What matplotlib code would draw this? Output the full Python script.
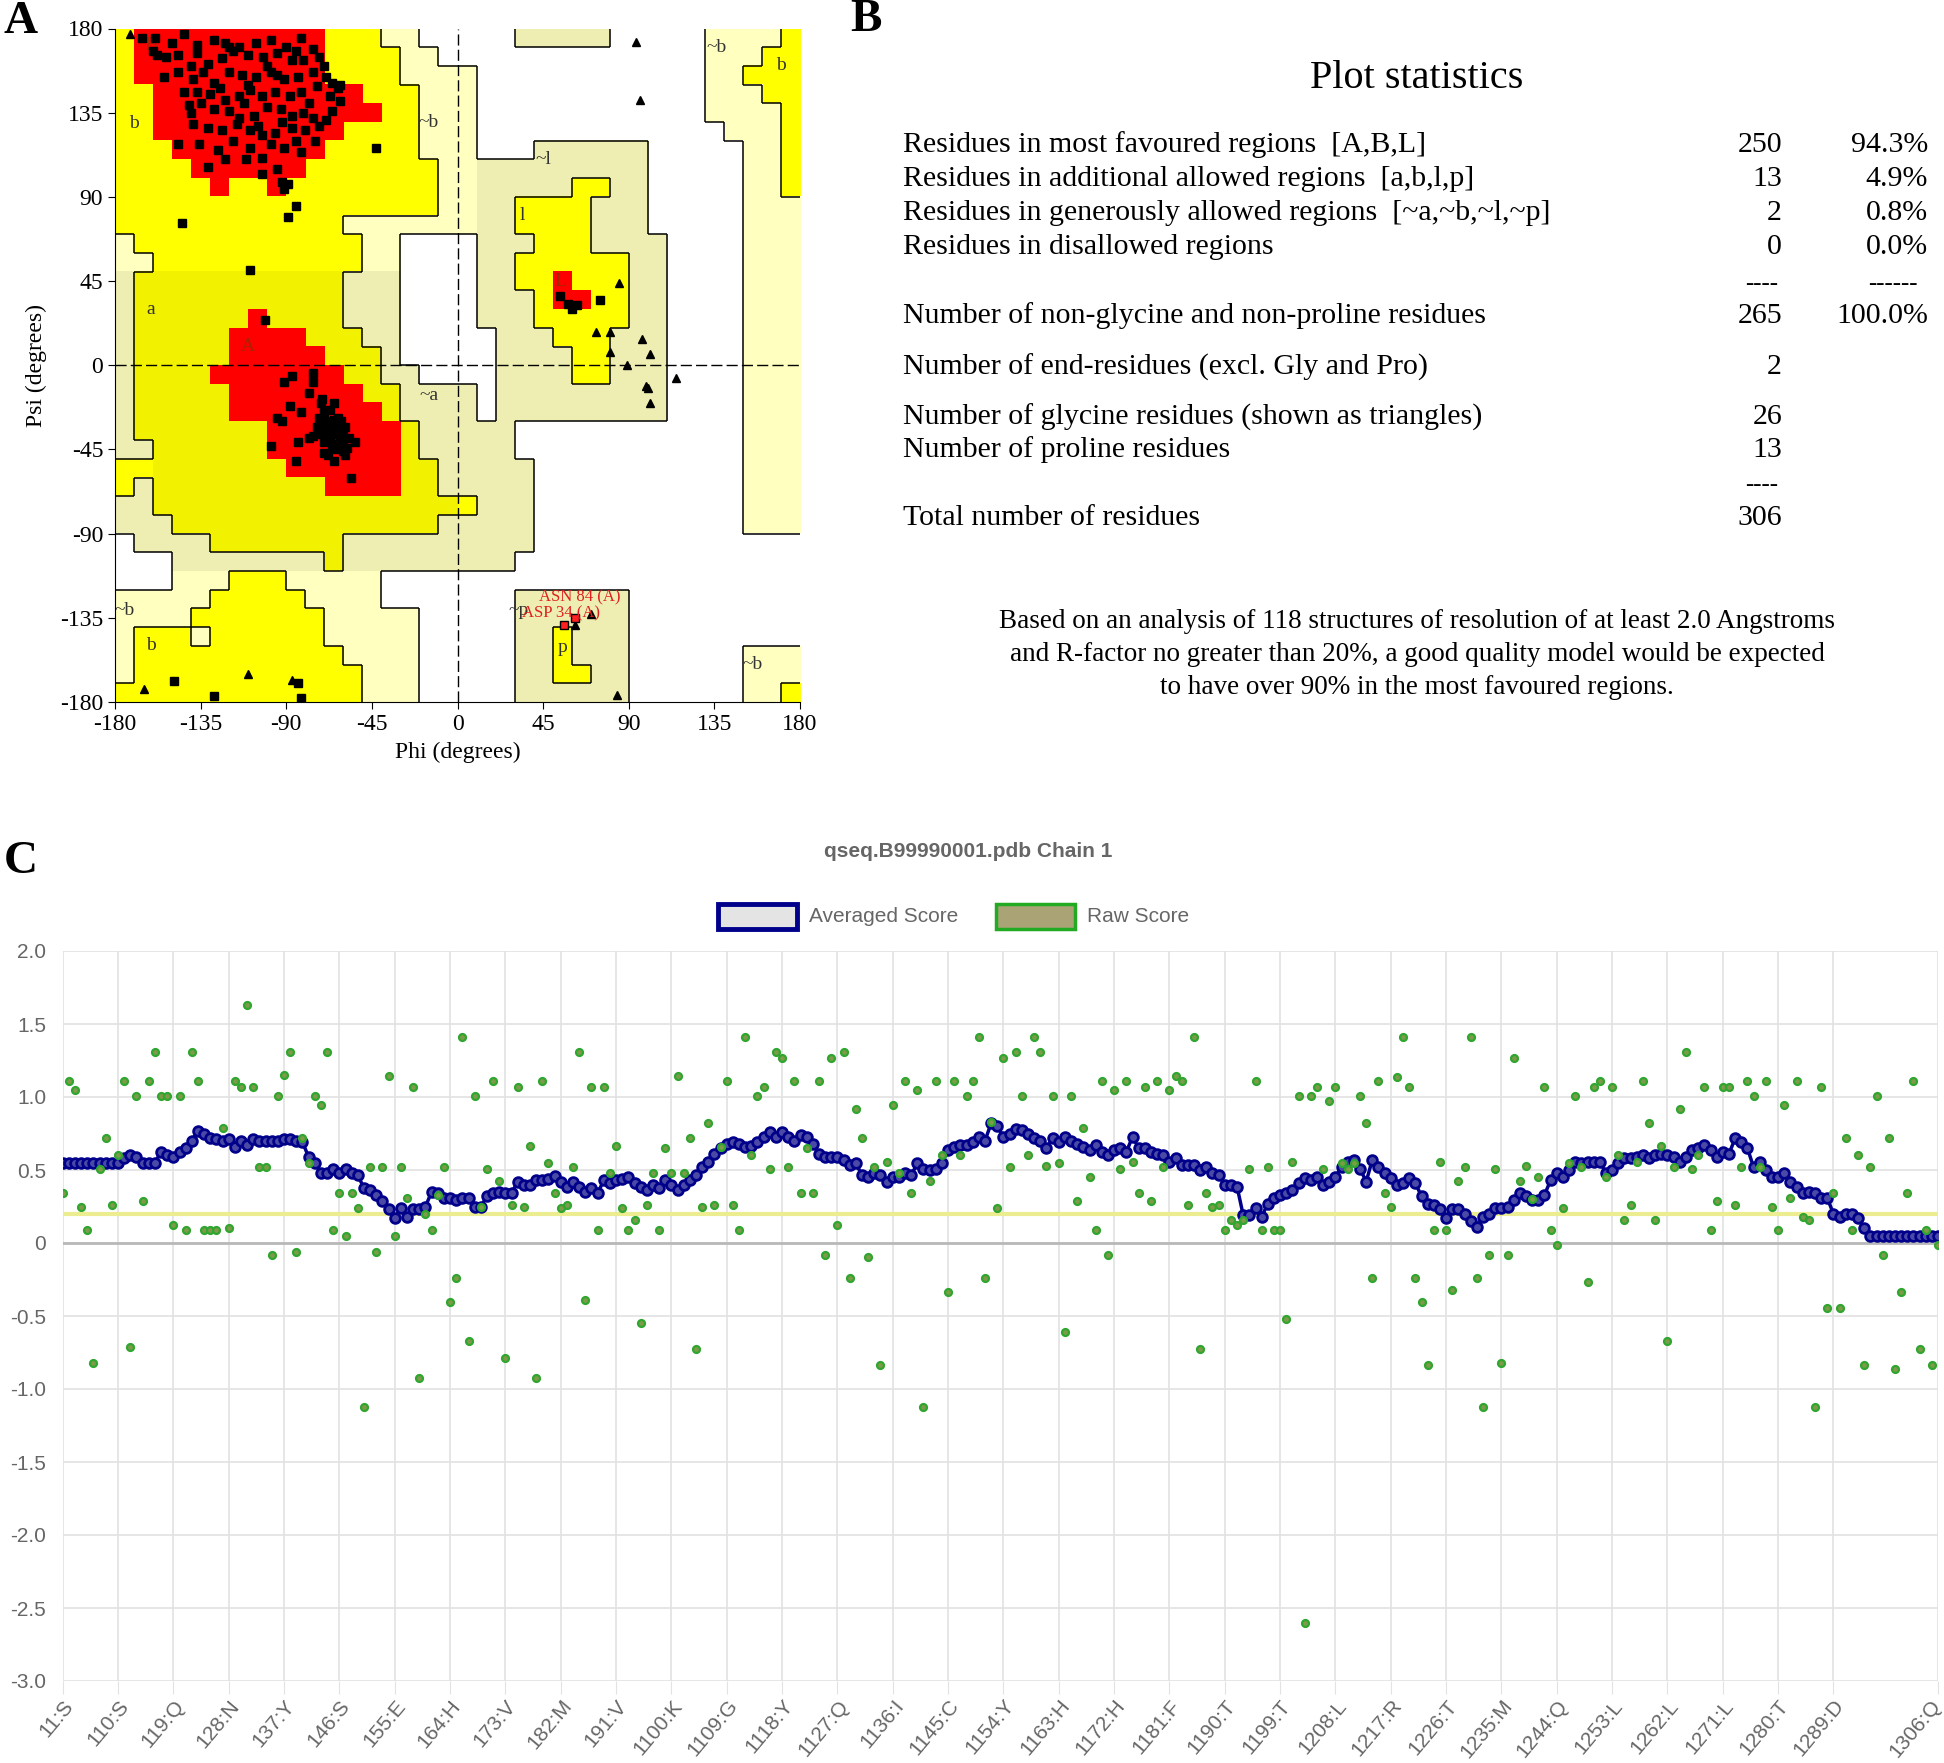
import matplotlib.pyplot as plt
import matplotlib.transforms as mtransforms
import numpy as np
from matplotlib.patches import Rectangle
from matplotlib.collections import LineCollection

plt.rcParams['axes.unicode_minus'] = False

W, H = 1944, 1763


def fx(x):
    return x / W


def fy(y):
    return 1 - y / H


# ---------------- Panel A: Ramachandran plot ----------------
# 36 x 36 cells of 10 degrees, top row = psi 170..180, left column = phi -180..-170
# R core, Y/A allowed, p/q generously allowed, . disallowed
region_left = [
    "YRRRRRRRRRRYYYpp..", "YRRRRRRRRRRYYYYpp.", "YRRRRRRRRRRYYYYppp", "YYRRRRRRRRRRRYYYpp",
    "YYRRRRRRRRRRRRYYpp", "YYRRRRRRRRRRYYYYpp", "YYYRRRRRRRRYYYYYpp", "YYYYRRRRRRYYYYYYYp",
    "YYYYYRYYRYYYYYYYYp", "YYYYYYYYYYYYYYYYYp", "YYYYYYYYYYYYpppppp", "pYYYYYYYYYYYYpp...",
    "ppYYYYYYYYYYYpp...", "qAAAAAAAAAAAqqq...", "qAAAAAAAAAAAqqq...", "qAAAAAARAAAAqqq...",
    "qAAAAARRRRAAAqq...", "qAAAAARRRRRAAAq...", "qAAAARRRRRRRAAqq..", "qAAAAARRRRRRRAAqqq",
    "qAAAAARRRRRRRRAqqq", "qAAAAAAARRRRRRRAqq", "qqAAAAAARRRRRRRAqq", "YYAAAAAAARRRRRRAAq",
    "YqAAAAAAAAARRRRAAq", "qqAAAAAAAAAAAAAAAA", "qqqAAAAAAAAAAAAAAq", ".qqqqAAAAAAAqqqqqq",
    "...qqqqqqqqAqqqqqq", "...pppYYYppppp....", "pppppYYYYYpppp....", "ppppYYYYYYYppppp..",
    "pYYYpYYYYYYppppp..", "pYYYYYYYYYYYpppp..", "pYYYYYYYYYYYYppp..", "YYYYYYYYYYYYYppp..",
]
region_right = [
    "...qqqqq.....ppppY", ".............pppYY", "p............ppYYY", "p............pppYY",
    "p............ppppY", "p.............pppY", "p...qqqqqq.....ppY", "pqqqqqqqqq.....ppY",
    "pqqqqqYYqq.....ppY", "pqqYYYYqqq.....ppp", "pqqYYYYqqq.....ppp", ".qqqYYYqqqq....ppp",
    ".qqYYYYYYqq....ppp", ".qqYYRYYYqq....ppp", ".qqqYRRYYqq....ppp", ".qqqYYYYYqq....ppp",
    "..qqqYYYqqq....ppp", "..qqqqYYqqq....ppp", "..qqqqYYqqq....ppp", "q.qqqqqqqqq....ppp",
    "q.qqqqqqqqq....ppp", "qqq............ppp", "qqq............ppp", "qqqq...........ppp",
    "qqqq...........ppp", "Yqqq...........ppp", "qqqq...........ppp", "qqqq..............",
    "qqq...............", "..................", "...qqqqqq.........", "...qqqqqq.........",
    "...qqYqqq.........", "...qqYqqq......ppp", "...qqYYqq......ppp", "...qqqqqq......ppY",
]
region_colors = {'R': '#ff0000', 'Y': '#ffff00', 'A': '#f2f200',
                 'p': '#ffffc0', 'q': '#eeeeb2', '.': '#ffffff'}
region_level = {'R': 3, 'Y': 2, 'A': 2, 'p': 1, 'q': 1, '.': 0}

# non-glycine residues (squares), phi / psi in degrees
sq_phi = [-166, -159, -144, -137, -128, -122, -115, -106, -98, -90, -82, -76, -158, -153, -147,
          -137, -131, -124, -118, -110, -102, -95, -87, -81, -73, -66, -63, -154, -147, -139,
          -134, -128, -120, -113, -106, -98, -91, -84, -76, -69, -62, -144, -137, -130, -122,
          -115, -109, -103, -96, -88, -82, -74, -67, -62, -141, -135, -128, -120, -115, -107,
          -100, -93, -87, -81, -76, -69, -139, -131, -124, -116, -109, -103, -96, -87, -80,
          -73, -147, -136, -122, -109, -103, -98, -91, -82, -131, -111, -103, -95, -89, -91,
          -92, -43, -85, -89, -145, -109, -101,
          -160, -150, -140, -125, -110, -100, -85, -78, -70, -66, -118, -126, -140, -105, -92,
          -85, -75, -112, -95, -120,
          -76, -76, -78, -82, -88, -91, -87, -95, -92, -98, -84, -78, -72, -70, -69, -67, -65,
          -63, -62, -66, -68, -65, -60, -59, -57, -54, -71, -74, -70, -71, -67, -65, -63, -61,
          -73, -76, -85, -56, -65, -69, -66, -63, -60, -59, -70,
          -64, -62, -68, -66, -58, -72, -60, -64, -67, -61,
          -149, -128, -84, -82, 54, 58, 60, 63, 75]
sq_psi = [175, 175, 177, 171, 174, 172, 170, 172, 174, 170, 175, 169, 166, 165, 166,
          167, 161, 164, 168, 166, 165, 167, 163, 163, 165, 151, 148, 154, 157, 153,
          157, 151, 157, 155, 154, 157, 153, 154, 157, 154, 150, 146, 146, 145, 142,
          144, 147, 144, 146, 144, 146, 149, 144, 141, 139, 140, 137, 136, 132, 133,
          138, 137, 133, 135, 132, 131, 129, 127, 126, 129, 126, 123, 124, 127, 126,
          128, 118, 118, 110, 116, 111, 118, 116, 114, 106, 110, 102, 105, 97, 94,
          98, 116, 85, 79, 76, 51, 24,
          168, 172, 160, 148, 150, 160, 168, 140, 160, 136, 120, 115, 135, 128, 130,
          120, 120, 140, 155, 170,
          -4, -9, -15, -25, -22, -9, -6, -28, -30, -43, -41, -39, -20, -25, -30, -33, -37,
          -28, -38, -43, -48, -51, -46, -33, -39, -41, -37, -33, -41, -18, -24, -29, -42, -30,
          -28, -38, -51, -60, -20, -39, -37, -33, -37, -48, -47,
          -35, -42, -36, -31, -44, -32, -40, -45, -40, -34,
          -169, -177, -170, -178, 37, 33, 30, 32, 35]
# residues flagged in generously allowed regions
flag_phi = [56, 62]
flag_psi = [-139, -135]
flag_names = ["ASP 34 (A)", "ASN 84 (A)"]
# glycines (triangles)
gly_phi = [-172, 94, 96, 85, 73, 80, 80, 97, 101, 89, 99, 100, 101, 115, 62, 70, -110, -87, -165, 84]
gly_psi = [177, 173, 142, 44, 18, 18, 7, 14, 6, 0, -11, -12, -20, -7, -139, -133, -165, -168, -173, -176]

region_labels = [("B", -161, 171), ("b", -170, 129), ("~b", -15, 130), ("~l", 45, 110), ("l", 34, 80),
                 ("L", 54, 45), ("a", -161, 30), ("A", -110, 10), ("~a", -15, -16), ("~b", -175, -131),
                 ("b", -161, -150), ("~p", 32, -131), ("p", 55, -151), ("~b", 155, -160),
                 ("b", 170, 160), ("~b", 136, 170)]

# ---------------- Panel B: statistics ----------------
stat_labels = ["Residues in most favoured regions  [A,B,L]",
               "Residues in additional allowed regions  [a,b,l,p]",
               "Residues in generously allowed regions  [~a,~b,~l,~p]",
               "Residues in disallowed regions",
               "Number of non-glycine and non-proline residues",
               "Number of end-residues (excl. Gly and Pro)",
               "Number of glycine residues (shown as triangles)",
               "Number of proline residues",
               "Total number of residues"]
stat_counts = ["250", "13", "2", "0", "265", "2", "26", "13", "306"]
stat_pcts = ["94.3%", "4.9%", "0.8%", "0.0%", "100.0%", "", "", "", ""]
note_lines = ["Based on an analysis of 118 structures of resolution of at least 2.0 Angstroms",
              "and R-factor no greater than 20%, a good quality model would be expected",
              "to have over 90% in the most favoured regions."]

# ---------------- Panel C: Verify3D ----------------
raw_score = [
    0.345, 1.107, 1.05, 0.25, 0.09, -0.82, 0.505, 0.72, 0.26, 0.60,
    1.107, -0.71, 1.01, 0.29, 1.107, 1.307, 1.01, 1.01, 0.12, 1.01,
    0.09, 1.307, 1.107, 0.09, 0.09, 0.09, 0.79, 0.10, 1.107, 1.066,
    1.63, 1.066, 0.52, 0.52, -0.08, 1.01, 1.15, 1.307, -0.06, 0.72,
    0.55, 1.01, 0.945, 1.307, 0.09, 0.345, 0.05, 0.345, 0.24, -1.125,
    0.52, -0.06, 0.52, 1.145, 0.05, 0.52, 0.305, 1.066, -0.925, 0.20,
    0.09, 0.33, 0.52, -0.405, -0.243, 1.414, -0.67, 1.01, 0.25, 0.505,
    1.107, 0.425, -0.79, 0.26, 1.066, 0.25, 0.666, -0.925, 1.107, 0.545,
    0.345, 0.24, 0.26, 0.52, 1.307, -0.39, 1.066, 0.09, 1.066, 0.477,
    0.666, 0.24, 0.09, 0.16, -0.55, 0.26, 0.477, 0.09, 0.65, 0.477,
    1.145, 0.477, 0.72, -0.727, 0.25, 0.825, 0.26, 0.66, 1.107, 0.26,
    0.09, 1.414, 0.60, 1.01, 1.066, 0.505, 1.307, 1.266, 0.52, 1.107,
    0.345, 0.65, 0.345, 1.107, -0.08, 1.266, 0.12, 1.307, -0.243, 0.92,
    0.72, -0.095, 0.52, -0.834, 0.557, 0.945, 0.48, 1.107, 0.345, 1.05,
    -1.125, 0.425, 1.107, 0.60, -0.336, 1.107, 0.60, 1.01, 1.107, 1.414,
    -0.243, 0.83, 0.24, 1.266, 0.52, 1.307, 1.01, 0.60, 1.414, 1.307,
    0.53, 1.01, 0.545, -0.61, 1.01, 0.29, 0.79, 0.45, 0.09, 1.107,
    -0.08, 1.05, 0.505, 1.107, 0.557, 0.345, 1.066, 0.29, 1.107, 0.52,
    1.05, 1.145, 1.107, 0.26, 1.414, -0.727, 0.345, 0.25, 0.26, 0.09,
    0.16, 0.12, 0.16, 0.505, 1.107, 0.09, 0.52, 0.09, 0.09, -0.52,
    0.557, 1.01, -2.6, 1.01, 1.066, 0.505, 0.97, 1.066, 0.55, 0.505,
    0.55, 1.01, 0.825, -0.243, 1.107, 0.345, 0.25, 1.134, 1.414, 1.066,
    -0.243, -0.405, -0.834, 0.09, 0.557, 0.09, -0.323, 0.425, 0.52, 1.414,
    -0.243, -1.125, -0.08, 0.505, -0.82, -0.08, 1.266, 0.425, 0.53, 0.30,
    0.45, 1.066, 0.09, -0.016, 0.24, 0.55, 1.01, 0.52, -0.27, 1.066,
    1.107, 0.45, 1.066, 0.60, 0.16, 0.26, 0.557, 1.107, 0.825, 0.16,
    0.666, -0.67, 0.52, 0.92, 1.307, 0.505, 0.60, 1.066, 0.09, 0.29,
    1.066, 1.066, 0.26, 0.52, 1.107, 1.01, 0.52, 1.107, 0.25, 0.09,
    0.945, 0.305, 1.107, 0.18, 0.16, -1.125, 1.066, -0.443, 0.345, -0.443,
    0.72, 0.09, 0.60, -0.834, 0.52, 1.01, -0.08, 0.72, -0.86, -0.336,
    0.345, 1.107, -0.727, 0.09, -0.834, -0.016]
avg_score = [
    0.545, 0.545, 0.545, 0.545, 0.545, 0.545, 0.545, 0.545, 0.545, 0.545,
    0.58, 0.60, 0.59, 0.55, 0.545, 0.55, 0.625, 0.60, 0.59, 0.62,
    0.65, 0.70, 0.77, 0.75, 0.72, 0.71, 0.70, 0.71, 0.66, 0.70,
    0.67, 0.71, 0.70, 0.70, 0.70, 0.70, 0.715, 0.71, 0.70, 0.69,
    0.59, 0.55, 0.48, 0.48, 0.51, 0.48, 0.51, 0.48, 0.465, 0.375,
    0.36, 0.33, 0.285, 0.23, 0.17, 0.24, 0.18, 0.23, 0.23, 0.25,
    0.35, 0.34, 0.31, 0.31, 0.295, 0.31, 0.31, 0.25, 0.25, 0.32,
    0.34, 0.35, 0.34, 0.34, 0.42, 0.40, 0.40, 0.43, 0.43, 0.44,
    0.46, 0.42, 0.385, 0.42, 0.385, 0.35, 0.375, 0.34, 0.43, 0.41,
    0.43, 0.44, 0.45, 0.41, 0.385, 0.36, 0.40, 0.375, 0.43, 0.40,
    0.36, 0.40, 0.43, 0.465, 0.52, 0.557, 0.61, 0.65, 0.68, 0.69,
    0.68, 0.66, 0.666, 0.69, 0.727, 0.76, 0.727, 0.76, 0.727, 0.70,
    0.74, 0.727, 0.68, 0.61, 0.59, 0.59, 0.59, 0.57, 0.534, 0.545,
    0.465, 0.455, 0.477, 0.465, 0.42, 0.455, 0.455, 0.477, 0.465, 0.545,
    0.51, 0.50, 0.51, 0.545, 0.636, 0.66, 0.67, 0.67, 0.69, 0.727,
    0.70, 0.82, 0.80, 0.727, 0.75, 0.784, 0.773, 0.75, 0.716, 0.70,
    0.65, 0.716, 0.69, 0.727, 0.70, 0.68, 0.66, 0.636, 0.67, 0.625,
    0.60, 0.636, 0.65, 0.625, 0.727, 0.65, 0.65, 0.625, 0.61, 0.60,
    0.557, 0.58, 0.534, 0.534, 0.534, 0.50, 0.52, 0.477, 0.465, 0.40,
    0.40, 0.386, 0.19, 0.19, 0.24, 0.18, 0.27, 0.307, 0.33, 0.34,
    0.364, 0.41, 0.443, 0.43, 0.455, 0.40, 0.42, 0.455, 0.52, 0.557,
    0.57, 0.51, 0.42, 0.57, 0.52, 0.477, 0.443, 0.40, 0.41, 0.443,
    0.41, 0.32, 0.27, 0.26, 0.23, 0.17, 0.23, 0.23, 0.20, 0.15,
    0.11, 0.18, 0.20, 0.24, 0.24, 0.25, 0.295, 0.34, 0.32, 0.295,
    0.295, 0.33, 0.43, 0.477, 0.455, 0.50, 0.557, 0.545, 0.557, 0.557,
    0.557, 0.477, 0.50, 0.545, 0.58, 0.58, 0.59, 0.60, 0.58, 0.60,
    0.61, 0.60, 0.59, 0.557, 0.59, 0.636, 0.65, 0.67, 0.636, 0.59,
    0.625, 0.61, 0.716, 0.69, 0.65, 0.52, 0.557, 0.50, 0.455, 0.455,
    0.477, 0.42, 0.386, 0.34, 0.35, 0.34, 0.307, 0.307, 0.20, 0.18,
    0.20, 0.20, 0.17, 0.10, 0.045, 0.045, 0.045, 0.045, 0.045, 0.045,
    0.045, 0.045, 0.045, 0.045, 0.045, 0.045]
tick_res = [1, 10, 19, 28, 37, 46, 55, 64, 73, 82, 91, 100, 109, 118, 127, 136, 145,
            154, 163, 172, 181, 190, 199, 208, 217, 226, 235, 244, 253, 262, 271, 280, 289, 306]
tick_aa = ["S", "S", "Q", "N", "Y", "S", "E", "H", "V", "M", "V", "K", "G", "Y", "Q", "I", "C",
           "Y", "H", "H", "F", "T", "T", "L", "R", "T", "M", "Q", "L", "L", "L", "T", "D", "Q"]

assert len(raw_score) == 306 and len(avg_score) == 306
assert all(len(s) == 18 for s in region_left + region_right)

serif = ['Liberation Serif', 'DejaVu Serif']
sans = ['Liberation Sans', 'DejaVu Sans']

fig = plt.figure(figsize=(W / 100, H / 100), dpi=100)

# ---- panel A
axa = fig.add_axes([fx(115), fy(702), fx(800) - fx(115), (702 - 28.5) / H])
rows = [l + r for l, r in zip(region_left, region_right)]
rgb = np.array([[plt.matplotlib.colors.to_rgb(region_colors[c]) for c in row] for row in rows])
axa.imshow(rgb, extent=[-180, 180, -180, 180], origin='upper', aspect='auto',
           interpolation='nearest', zorder=0)
lev = np.array([[region_level[c] for c in row] for row in rows])
segs = []
for i in range(36):
    for j in range(36):
        top = 180 - 10 * i
        left = -180 + 10 * j
        if j < 35 and lev[i, j] != lev[i, j + 1] and min(lev[i, j], lev[i, j + 1]) < 2:
            segs.append([(left + 10, top), (left + 10, top - 10)])
        if i < 35 and lev[i, j] != lev[i + 1, j] and min(lev[i, j], lev[i + 1, j]) < 2:
            segs.append([(left, top - 10), (left + 10, top - 10)])
axa.add_collection(LineCollection(segs, colors='black', linewidths=1.1, zorder=1))
axa.axhline(0, color='black', lw=1, ls=(0, (8, 3)), zorder=1)
axa.axvline(0, color='black', lw=1, ls=(0, (8, 3)), zorder=1)
for txt, x, y in region_labels:
    col = '#aa2200' if txt in ('A', 'B', 'L') else '#333333'
    axa.text(x, y, txt, fontsize=14, family=serif, color=col, ha='center', va='center', zorder=2)
axa.plot(sq_phi, sq_psi, 's', ms=5.2, color='black', ls='none', zorder=3)
axa.plot(gly_phi, gly_psi, '^', ms=5.5, color='black', ls='none', zorder=3)
axa.plot(flag_phi, flag_psi, 's', ms=5.5, mfc='#ff2020', mec='black', ls='none', zorder=4)
axa.text(flag_phi[0] - 22, flag_psi[0] + 4, flag_names[0], fontsize=12, family=serif, color='#e02020', zorder=5)
axa.text(flag_phi[1] - 19, flag_psi[1] + 9, flag_names[1], fontsize=12, family=serif, color='#e02020', zorder=5)
axa.set_xlim(-180, 180)
axa.set_ylim(-180, 180)
ticks = [-180, -135, -90, -45, 0, 45, 90, 135, 180]
axa.set_xticks(ticks)
axa.set_yticks(ticks)
axa.tick_params(labelsize=17, length=5, direction='out')
for lab in axa.get_xticklabels() + axa.get_yticklabels():
    lab.set_family(serif)
for s in ('top', 'right'):
    axa.spines[s].set_visible(False)
axa.set_xlabel('Phi (degrees)', fontsize=17, family=serif, labelpad=5)
axa.set_ylabel('Psi (degrees)', fontsize=17, family=serif, labelpad=9)

# ---- panel B
fig.text(fx(1417), fy(79), 'Plot statistics', fontsize=29, family=serif, ha='center', va='center')
row_y = [145, 178.5, 213, 247, 316, 367, 417, 450, 518]
for lab, cnt, pct, y in zip(stat_labels, stat_counts, stat_pcts, row_y):
    fig.text(fx(903), fy(y), lab, fontsize=21.5, family=serif, ha='left', va='center')
    fig.text(fx(1782), fy(y), cnt, fontsize=21.5, family=serif, ha='right', va='center')
    if pct:
        fig.text(fx(1928), fy(y), pct, fontsize=21.5, family=serif, ha='right', va='center')
fig.text(fx(1778), fy(284), '----', fontsize=18, family=serif, ha='right', va='center')
fig.text(fx(1918), fy(284), '------', fontsize=18, family=serif, ha='right', va='center')
fig.text(fx(1778), fy(485), '----', fontsize=18, family=serif, ha='right', va='center')
for k, line in enumerate(note_lines):
    fig.text(fx(1417), fy(621 + 33.5 * k), line, fontsize=19.5, family=serif, ha='center', va='center')

# panel letters
for letter, x, y in [('A', 21, 22), ('B', 866, 20), ('C', 21, 862)]:
    fig.text(fx(x), fy(y), letter, fontsize=34, fontweight='bold', family=serif, ha='center', va='center')

# ---- panel C
axc = fig.add_axes([fx(62.7), fy(1681), fx(1938) - fx(62.7), (1681 - 951) / H])
res = np.arange(1, 307)
axc.axhline(0.2, color='#ecec90', lw=3, zorder=2)
axc.plot(res, avg_score, '-', color='#00008b', lw=2.5, marker='o', ms=7, mfc='#4a4aa6',
         mec='#00008b', mew=2, zorder=3)
axc.plot(res, raw_score, 'o', ms=5, mfc='#7f9a48', mec='#2fa62f', mew=1.6, ls='none', zorder=4)
axc.set_xlim(1, 306)
axc.set_ylim(-3, 2)
yt = np.arange(-3, 2.01, 0.5)
axc.set_yticks(yt)
axc.set_yticklabels(['0' if abs(v) < 1e-9 else f'{v:.1f}' for v in yt])
axc.set_xticks(tick_res)
axc.set_xticklabels([f'1{r}:{a}' for r, a in zip(tick_res, tick_aa)], rotation=50,
                    ha='right', va='top', rotation_mode='anchor')
axc.grid(True, color='#e2e2e2', lw=1.2, zorder=0)
axc.axhline(0, color='#b8b8b8', lw=2, zorder=1)
for s in axc.spines.values():
    s.set_visible(False)
axc.tick_params(axis='y', length=0, pad=12, labelsize=15, labelcolor='#666666')
axc.tick_params(axis='x', length=9, color='#e2e2e2', pad=2, labelsize=15, labelcolor='#666666')
xlabels = axc.get_xticklabels()
for lab in xlabels + axc.get_yticklabels():
    lab.set_family(sans)
# keep the last residue label inside the figure
last = xlabels[-1]
last.set_transform(last.get_transform() + mtransforms.ScaledTranslation(-8 / 100, 0, fig.dpi_scale_trans))
axc.set_axisbelow(True)

fig.text(fx(968), fy(851), 'qseq.B99990001.pdb Chain 1', fontsize=15, fontweight='bold',
         color='#666666', family=sans, ha='center', va='center')
fig.add_artist(Rectangle((fx(718), fy(929)), fx(79), 25 / H, transform=fig.transFigure,
                         facecolor='#e4e4e4', edgecolor='#00008b', lw=3.5))
fig.text(fx(809), fy(916), 'Averaged Score', fontsize=15, color='#666666', family=sans, va='center')
fig.add_artist(Rectangle((fx(996), fy(929)), fx(79), 25 / H, transform=fig.transFigure,
                         facecolor='#aaa375', edgecolor='#22aa22', lw=2.5))
fig.text(fx(1087), fy(916), 'Raw Score', fontsize=15, color='#666666', family=sans, va='center')

fig.savefig('out.png', dpi=100)
